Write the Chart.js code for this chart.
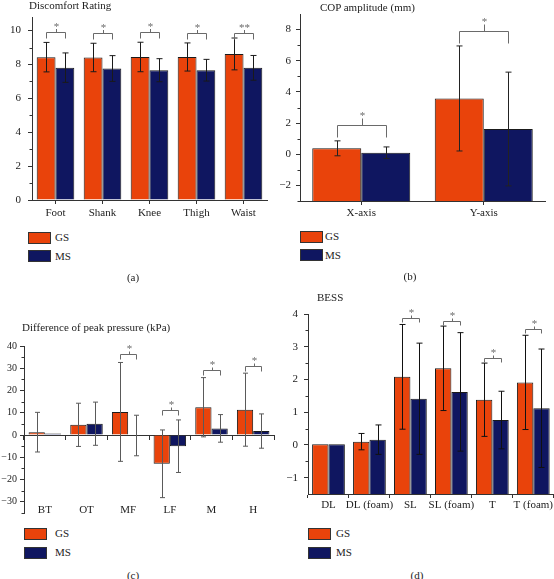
<!DOCTYPE html>
<html><head><meta charset="utf-8">
<script src="https://cdn.jsdelivr.net/npm/chart.js@4.4.1/dist/chart.umd.min.js"></script>
<style>
body{margin:0;background:#fff;width:554px;height:579px;position:relative;overflow:hidden;font-family:"Liberation Serif","Times New Roman",serif;color:#222}
.c{position:absolute}
.t{position:absolute;font-size:11px;white-space:nowrap;line-height:12px}
.lg{position:absolute;width:21px;height:10px;border:1px solid #333;box-sizing:content-box}
.cap{position:absolute;font-size:11px;line-height:12px;transform:translateX(-50%)}
</style></head><body>

<div class="c" style="left:0;top:0"><canvas id="ca" width="277" height="225"></canvas></div>
<div class="c" style="left:277px;top:0"><canvas id="cb" width="277" height="225"></canvas></div>
<div class="c" style="left:0;top:290px"><canvas id="cc" width="277" height="235"></canvas></div>
<div class="c" style="left:277px;top:290px"><canvas id="cd" width="277" height="235"></canvas></div>

<div class="t" style="left:29px;top:-1px">Discomfort Rating</div>
<div class="t" style="left:320px;top:1px">COP amplitude (mm)</div>
<div class="t" style="left:22px;top:321px">Difference of peak pressure (kPa)</div>
<div class="t" style="left:317px;top:291px">BESS</div>

<div class="lg" style="left:28px;top:232px;background:#E9430B"></div><div class="t" style="left:55px;top:231px">GS</div>
<div class="lg" style="left:28px;top:250px;background:#0F1660"></div><div class="t" style="left:55px;top:250px">MS</div>
<div class="lg" style="left:300px;top:231px;background:#E9430B"></div><div class="t" style="left:325px;top:230px">GS</div>
<div class="lg" style="left:300px;top:249px;background:#0F1660"></div><div class="t" style="left:325px;top:249px">MS</div>
<div class="lg" style="left:24px;top:528px;background:#E9430B"></div><div class="t" style="left:55px;top:527px">GS</div>
<div class="lg" style="left:24px;top:547px;background:#0F1660"></div><div class="t" style="left:55px;top:546px">MS</div>
<div class="lg" style="left:308px;top:528px;background:#E9430B"></div><div class="t" style="left:336px;top:527px">GS</div>
<div class="lg" style="left:308px;top:547px;background:#0F1660"></div><div class="t" style="left:336px;top:546px">MS</div>

<div class="cap" style="left:133px;top:271px">(a)</div>
<div class="cap" style="left:410px;top:270px">(b)</div>
<div class="cap" style="left:133px;top:569px">(c)</div>
<div class="cap" style="left:417px;top:569px">(d)</div>

<script>
// ---------- DATA ----------
// (a) Discomfort Rating
const catsA = ['Foot', 'Shank', 'Knee', 'Thigh', 'Waist'];
const gsA   = [8.43, 8.41, 8.44, 8.44, 8.62];
const gsSdA = [0.87, 0.84, 0.87, 0.83, 0.94];
const msA   = [7.81, 7.76, 7.66, 7.66, 7.80];
const msSdA = [0.87, 0.76, 0.68, 0.64, 0.73];
const sigA  = [9.94, 9.84, 9.94, 9.84, 9.84];
const sigLabA = ['*', '*', '*', '*', '**'];
const ticksA = [0, 2, 4, 6, 8, 10];
const minorA = [1, 3, 5, 7, 9];

// (b) COP amplitude (mm)
const catsB = ['X-axis', 'Y-axis'];
const gsB   = [0.38, 3.58];
const gsSdB = [0.48, 3.37];
const msB   = [0.10, 1.62];
const msSdB = [0.37, 3.65];
const sigB  = [1.85, 7.93];
const sigLabB = ['*', '*'];
const ticksB = [-2, 0, 2, 4, 6, 8];
const minorB = [-3, -1, 1, 3, 5, 7];

// (c) Difference of peak pressure (kPa)
const catsC = ['BT', 'OT', 'MF', 'LF', 'M', 'H'];
const gsC   = [1.3, 4.6, 10.4, -12.9, 12.5, 11.4];
const gsSdC = [8.9, 9.7, 22.2, 15.2, 13.3, 16.4];
const msC   = [0.7, 5.1, -0.2, -5.0, 3.0, 1.8];
const msSdC = [0, 9.7, 9.1, 11.8, 6.2, 7.7];
const sigC  = [null, null, 36.2, 11.2, 29.4, 31.0];
const sigLabC = ['', '', '*', '*', '*', '*'];
const ticksC = [-30, -20, -10, 0, 10, 20, 30, 40];
const minorC = [-35, -25, -15, -5, 5, 15, 25, 35];

// (d) BESS
const catsD = ['DL', 'DL (foam)', 'SL', 'SL (foam)', 'T', 'T (foam)'];
const gsD   = [0.02, 0.10, 2.08, 2.34, 1.38, 1.91];
const gsSdD = [0, 0.25, 1.60, 1.29, 1.12, 1.44];
const msD   = [0.02, 0.16, 1.41, 1.62, 0.76, 1.12];
const msSdD = [0, 0.45, 1.70, 1.81, 0.88, 1.81];
const sigD  = [null, null, 3.87, 3.79, 2.67, 3.53];
const sigLabD = ['', '', '*', '*', '*', '*'];
const ticksD = [-1, 0, 1, 2, 3, 4];
const minorD = [-0.5, 0.5, 1.5, 2.5, 3.5];

// ---------- STYLE ----------
const FAMILY = '"Liberation Serif", "Times New Roman", serif';
const FONT = {family: FAMILY, size: 11};
const GS_COLOR = '#E9430B', MS_COLOR = '#0F1660', AXIS = '#333', TXT = '#222';
const fmt = v => v < 0 ? '\u2212' + Math.abs(v) : String(v);

function annot(c) {
  return {
    id: 'annot',
    afterDatasetsDraw(chart) {
      const ctx = chart.ctx, ys = chart.scales.y;
      ctx.save();
      ctx.lineWidth = 1;
      ctx.strokeStyle = c.errColor;
      const sds = [c.sd0, c.sd1];
      chart.data.datasets.forEach((ds, i) => {
        const meta = chart.getDatasetMeta(i);
        meta.data.forEach((el, j) => {
          const sd = sds[i][j];
          if (!sd) return;
          const v = ds.data[j];
          const x = Math.round(el.x) + 0.5;
          const y1 = ys.getPixelForValue(v + sd), y2 = ys.getPixelForValue(v - sd);
          ctx.beginPath();
          ctx.moveTo(x, y1); ctx.lineTo(x, y2);
          ctx.moveTo(x - c.cap, y1); ctx.lineTo(x + c.cap, y1);
          ctx.moveTo(x - c.cap, y2); ctx.lineTo(x + c.cap, y2);
          ctx.stroke();
        });
      });
      // significance brackets
      const m0 = chart.getDatasetMeta(0), m1 = chart.getDatasetMeta(1);
      ctx.strokeStyle = '#6a6a6a';
      ctx.fillStyle = '#6a6a6a';
      ctx.font = '11px ' + FAMILY;
      ctx.textAlign = 'center';
      ctx.textBaseline = 'alphabetic';
      c.sig.forEach((s, j) => {
        if (s === null) return;
        const x1 = Math.round(m0.data[j].x) + 0.5, x2 = Math.round(m1.data[j].x) + 0.5;
        const y = Math.round(ys.getPixelForValue(s)) + 0.5;
        const xm = Math.round((x1 + x2) / 2) + 0.5;
        ctx.beginPath();
        ctx.moveTo(x1, y + c.leg); ctx.lineTo(x1, y); ctx.lineTo(x2, y); ctx.lineTo(x2, y + c.leg);
        ctx.moveTo(xm, y); ctx.lineTo(xm, y - c.up);
        ctx.stroke();
        ctx.fillText(c.sigLab[j], xm, y - c.up + 0.5);
      });
      ctx.restore();
    },
    afterDraw(chart) {
      const ctx = chart.ctx, ys = chart.scales.y;
      const x = chart.chartArea.left;
      ctx.save();
      ctx.strokeStyle = AXIS; ctx.lineWidth = 1;
      ctx.beginPath();
      c.minor.forEach(v => {
        const y = Math.round(ys.getPixelForValue(v)) + 0.5;
        ctx.moveTo(x, y); ctx.lineTo(x - 2.5, y);
      });
      ctx.stroke();
      ctx.restore();
    }
  };
}

function build(id, c) {
  const ds = (label, data, color) => ({
    label, data, backgroundColor: color, borderColor: '#1a1a1a', borderWidth: 1,
    base: c.base, categoryPercentage: c.catPct, barPercentage: 1
  });
  const scales = {
    x: {
      type: 'category', offset: true,
      position: c.xPos,
      grid: {display: true, offset: c.gridOffset, drawOnChartArea: false, drawTicks: true, tickLength: 4, color: AXIS},
      border: {display: true, color: AXIS, width: 1},
      ticks: {display: c.xLabels, font: FONT, color: TXT, padding: c.xPad, maxRotation: 0, autoSkip: false},
      afterFit: s => { s.height = c.xH; }
    },
    y: {
      type: 'linear', min: c.min, max: c.max,
      afterBuildTicks: s => { s.ticks = c.ticks.map(v => ({value: v})); },
      afterFit: s => { s.width = c.yW; },
      grid: {display: true, drawOnChartArea: false, drawTicks: true, tickLength: 4, color: AXIS},
      border: {display: true, color: AXIS, width: 1},
      ticks: {font: {family: FAMILY, size: c.yFont || 11}, color: TXT, padding: c.yPad, callback: v => fmt(v)}
    }
  };
  if (c.labelAxisY !== undefined) {
    scales.x2 = {
      type: 'category', axis: 'x', labels: c.labels, offset: true,
      position: {y: c.labelAxisY},
      grid: {display: false}, border: {display: false},
      ticks: {font: FONT, color: TXT, padding: 0, maxRotation: 0, autoSkip: false}
    };
  }
  return new Chart(document.getElementById(id), {
    type: 'bar',
    data: {labels: c.labels, datasets: [ds('GS', c.gs, GS_COLOR), ds('MS', c.ms, MS_COLOR)]},
    options: {
      responsive: false, animation: false, devicePixelRatio: 1,
      layout: {padding: c.pad},
      plugins: {legend: {display: false}, tooltip: {enabled: false}},
      scales
    },
    plugins: [annot(c)]
  });
}

build('ca', {
  labels: catsA, gs: gsA, ms: msA, sd0: gsSdA, sd1: msSdA, sig: sigA, sigLab: sigLabA,
  ticks: ticksA, minor: minorA, min: 0, max: 10.8, base: undefined, catPct: 0.8,
  gridOffset: false, xLabels: true, xPad: 3, xH: 25, yW: 32, yPad: 7,
  pad: {left: 0, right: 10, top: 17, bottom: 0},
  errColor: '#1a1a1a', cap: 3, leg: 6, up: 3.5
});

build('cb', {
  labels: catsB, gs: gsB, ms: msB, sd0: gsSdB, sd1: msSdB, sig: sigB, sigLab: sigLabB,
  ticks: ticksB, minor: minorB, min: -3, max: 9, base: -3, catPct: 0.8,
  gridOffset: false, xLabels: true, xPad: 2, xH: 24, yW: 23, yPad: 5,
  pad: {left: 0, right: 9, top: 14, bottom: 0},
  errColor: '#222', cap: 3, leg: 12, up: 7
});

build('cc', {
  labels: catsC, gs: gsC, ms: msC, sd0: gsSdC, sd1: msSdC, sig: sigC, sigLab: sigLabC,
  ticks: ticksC, minor: minorC, min: -35, max: 40, base: undefined, catPct: 0.78,
  xPos: {y: 0}, labelAxisY: -27,
  gridOffset: true, xLabels: false, xPad: 0, xH: 0, yW: 24, yPad: 3, yFont: 10,
  pad: {left: 0, right: 3, top: 56, bottom: 12},
  errColor: '#5a5a5a', cap: 2.5, leg: 5, up: 3
});

build('cd', {
  labels: catsD, gs: gsD, ms: msD, sd0: gsSdD, sd1: msSdD, sig: sigD, sigLab: sigLabD,
  ticks: ticksD, minor: minorD, min: -1.5, max: 4, base: -1.5, catPct: 0.8,
  gridOffset: true, xLabels: true, xPad: 1, xH: 31, yW: 31, yPad: 6,
  pad: {left: 0, right: 0, top: 24, bottom: 0},
  errColor: '#111', cap: 3, leg: 4, up: 3
});
</script>
</body></html>
